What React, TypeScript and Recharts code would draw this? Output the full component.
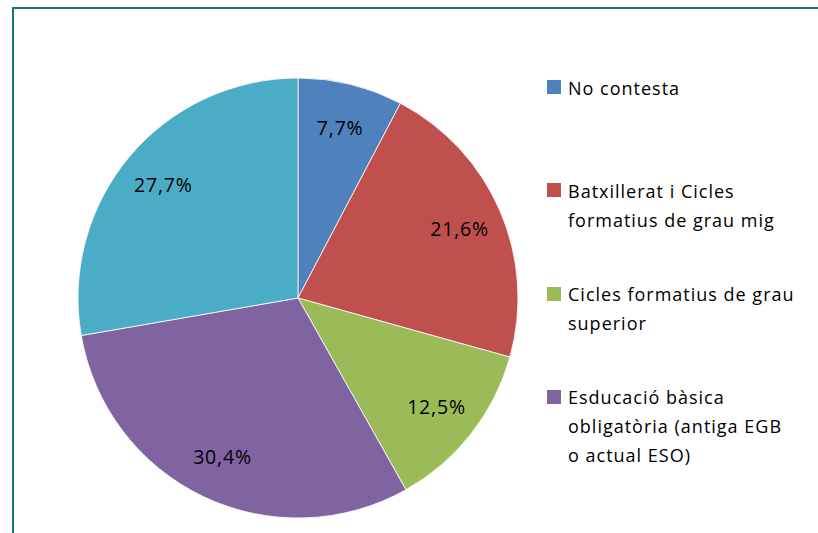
import React from 'react';
import { PieChart, Pie, Cell } from 'recharts';

// categories (the 5th one is cut off in the original legend)
const categories = [
    'No contesta',
    'Batxillerat i Cicles\nformatius de grau mig',
    'Cicles formatius de grau\nsuperior',
    'Esducació bàsica\nobligatòria (antiga EGB\no actual ESO)',
    'Estudis universitaris',
];
const shares = [7.7, 21.6, 12.5, 30.4, 27.7];
const colors = ['#4f81bd', '#c0504d', '#9bbb59', '#8064a2', '#4bacc6'];
const legendCount = 4;

const RADIAN = Math.PI / 180;
const FONT = "'Open Sans', Lato, sans-serif";

const chartData = categories.map((name, i) => ({ name, value: shares[i] }));

const renderLabel = (props: any) => {
    const { cx, cy, midAngle, outerRadius, value } = props;
    const r = outerRadius * 0.8;
    const x = cx + r * Math.cos(-midAngle * RADIAN);
    const y = cy + r * Math.sin(-midAngle * RADIAN);
    return (
        <text x={x} y={y} fill="#000" fontSize={19.5} letterSpacing={0.8} textAnchor="middle" dominantBaseline="central" fontFamily={FONT}>
            {value.toFixed(1).replace('.', ',')}%
        </text>
    );
};

const LegendBox = () => (
    <div style={{ position: 'absolute', left: 547, top: 73.5, width: 270, fontFamily: FONT, fontSize: 18, letterSpacing: 1, color: '#000' }}>
        {categories.slice(0, legendCount).map((name, i) => (
            <div key={name} style={{ height: 103.3, display: 'flex', alignItems: 'flex-start' }}>
                <span style={{ width: 14, height: 14, background: colors[i], marginTop: 6.5, marginRight: 7, flex: 'none' }} />
                <span style={{ whiteSpace: 'pre-line', lineHeight: '29px' }}>{name}</span>
            </div>
        ))}
    </div>
);

export default function App() {
    return (
        <div style={{ position: 'absolute', left: 0, top: 0, width: 818, height: 533, overflow: 'hidden', background: '#fff' }}>
            <div style={{ position: 'absolute', left: 12, top: 7, width: 820, height: 540, borderTop: '2px solid #17737d', borderLeft: '2px solid #17737d' }} />
            <PieChart width={818} height={533} margin={{ top: 0, right: 0, bottom: 0, left: 0 }} style={{ position: 'absolute', left: 0, top: 0 }}>
                <Pie
                    data={chartData}
                    dataKey="value"
                    nameKey="name"
                    cx={298}
                    cy={298}
                    outerRadius={220}
                    startAngle={90}
                    endAngle={-270}
                    stroke="#ffffff"
                    strokeWidth={0.8}
                    label={renderLabel}
                    labelLine={false}
                    isAnimationActive={false}
                >
                    {chartData.map((d, i) => (
                        <Cell key={d.name} fill={colors[i]} />
                    ))}
                </Pie>
            </PieChart>
            <LegendBox />
        </div>
    );
}
